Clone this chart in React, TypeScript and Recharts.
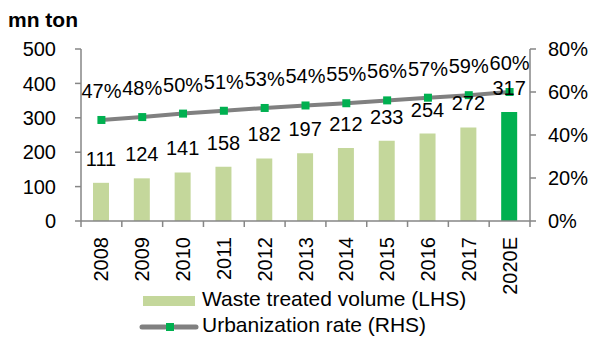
import React from 'react';
import { ComposedChart, Bar, Line, XAxis, YAxis, Cell, LabelList } from 'recharts';

const categories = ['2008', '2009', '2010', '2011', '2012', '2013', '2014', '2015', '2016', '2017', '2020E'];
const wasteVolume = [111, 124, 141, 158, 182, 197, 212, 233, 254, 272, 317];
const urbanization = [0.4699, 0.4834, 0.4995, 0.5127, 0.5257, 0.5373, 0.5477, 0.561, 0.5735, 0.5852, 0.6];
const leftTicks = [0, 100, 200, 300, 400, 500];
const rightTicks = [0, 0.2, 0.4, 0.6, 0.8];
const highlighted = '2020E';
const unitLabel = 'mn ton';
const barLegend = 'Waste treated volume (LHS)';
const lineLegend = 'Urbanization rate (RHS)';

const data = categories.map((c, i) => ({ category: c, volume: wasteVolume[i], rate: urbanization[i] }));

const FONT = '"Liberation Sans", Arial, sans-serif';
const AXIS = '#868686';
const BAR = '#C4D79B';
const GREEN = '#00B050';
const LINE = '#808080';

const XTick = (props: any) => {
  const { x, y, payload, index } = props;
  const half = payload && payload.offset ? payload.offset : 20.4;
  const last = index === categories.length - 1;
  return (
    <g>
      <line x1={x - half} y1={y} x2={x - half} y2={y + 6} stroke={AXIS} strokeWidth={1.5} />
      {last && <line x1={x + half} y1={y} x2={x + half} y2={y + 6} stroke={AXIS} strokeWidth={1.5} />}
      <text
        x={x + 7}
        y={y + 16}
        transform={`rotate(-90, ${x + 7}, ${y + 16})`}
        textAnchor="end"
        fontSize={20}
        fontFamily={FONT}
        fill="#000"
      >
        {payload.value}
      </text>
    </g>
  );
};

const BarLabel = (props: any) => {
  const { x, y, width, value } = props;
  return (
    <text x={x + width / 2} y={y - 17} textAnchor="middle" fontSize={20} fontFamily={FONT} fill="#000">
      {value}
    </text>
  );
};

const LineLabel = (props: any) => {
  const { x, y, value } = props;
  return (
    <text x={x} y={y - 22} textAnchor="middle" fontSize={20} fontFamily={FONT} fill="#000">
      {`${Math.round(value * 100)}%`}
    </text>
  );
};

const SquareDot = (props: any) => {
  const { cx, cy } = props;
  if (cx == null || cy == null) return null;
  return <rect x={cx - 4} y={cy - 4} width={8} height={8} fill={GREEN} />;
};

export default function App() {
  return (
    <div style={{ position: 'absolute', left: 0, top: 0, width: 595, height: 338, fontFamily: FONT }}>
      <div style={{ position: 'absolute', left: 8, top: 6, fontSize: 21, fontWeight: 'bold', lineHeight: '28px' }}>
        {unitLabel}
      </div>
      <ComposedChart
        width={595}
        height={338}
        data={data}
        margin={{ top: 49, right: 0, bottom: 0, left: 0 }}
        barCategoryGap="30%"
      >
        <XAxis
          dataKey="category"
          xAxisId={0}
          height={117}
          tickSize={0}
          tickMargin={0}
          tickLine={false}
          axisLine={{ stroke: AXIS, strokeWidth: 1.5 }}
          tick={<XTick />}
          interval={0}
        />
        <YAxis
          yAxisId="left"
          orientation="left"
          width={81}
          domain={[0, 500]}
          ticks={leftTicks}
          tickSize={6}
          tickMargin={19}
          axisLine={{ stroke: AXIS, strokeWidth: 1.5 }}
          tickLine={{ stroke: AXIS, strokeWidth: 1.5 }}
          tick={{ fill: '#000', fontSize: 20, fontFamily: FONT }}
        />
        <YAxis
          yAxisId="right"
          orientation="right"
          width={65}
          domain={[0, 0.8]}
          ticks={rightTicks}
          tickSize={6}
          tickMargin={12}
          axisLine={{ stroke: AXIS, strokeWidth: 1.5 }}
          tickLine={{ stroke: AXIS, strokeWidth: 1.5 }}
          tick={{ fill: '#000', fontSize: 20, fontFamily: FONT, textAnchor: 'start' }}
          tickFormatter={(v: number) => `${Math.round(v * 100)}%`}
        />
        <Line
          yAxisId="right"
          dataKey="rate"
          stroke={LINE}
          strokeWidth={4}
          dot={<SquareDot />}
          activeDot={false}
          isAnimationActive={false}
        >
          <LabelList dataKey="rate" content={<LineLabel />} />
        </Line>
        <Bar yAxisId="left" dataKey="volume" barSize={16} isAnimationActive={false}>
          {data.map((d) => (
            <Cell key={d.category} fill={d.category === highlighted ? GREEN : BAR} />
          ))}
          <LabelList dataKey="volume" content={<BarLabel />} />
        </Bar>
      </ComposedChart>
      <div style={{ position: 'absolute', left: 143, top: 296, width: 52, height: 10, background: BAR }} />
      <div style={{ position: 'absolute', left: 202, top: 286, fontSize: 21, lineHeight: '26px', whiteSpace: 'nowrap' }}>
        {barLegend}
      </div>
      <svg style={{ position: 'absolute', left: 138, top: 320 }} width={62} height={14}>
        <line x1={4} y1={7} x2={27} y2={7} stroke={LINE} strokeWidth={5} strokeLinecap="round" />
        <line x1={37} y1={7} x2={58} y2={7} stroke={LINE} strokeWidth={5} strokeLinecap="round" />
        <rect x={28} y={3} width={8} height={8} fill={GREEN} />
      </svg>
      <div style={{ position: 'absolute', left: 202, top: 312, fontSize: 21, lineHeight: '26px', whiteSpace: 'nowrap' }}>
        {lineLegend}
      </div>
    </div>
  );
}
